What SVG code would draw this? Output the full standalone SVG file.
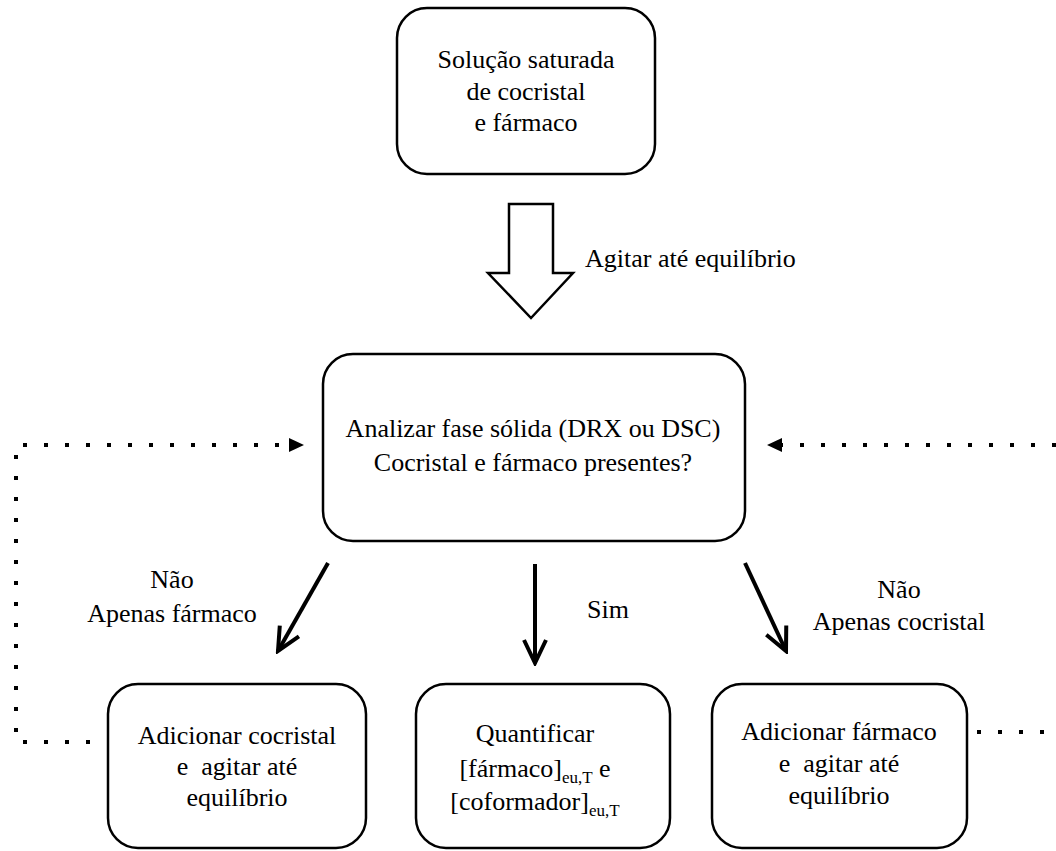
<svg xmlns="http://www.w3.org/2000/svg" width="1056" height="851" viewBox="0 0 1056 851">
<style>
.box{fill:#fff;stroke:#000;stroke-width:2.5}
text{font-family:'Liberation Serif','Times New Roman','DejaVu Serif',serif;font-size:26px;fill:#000;text-anchor:middle}
.ts{text-anchor:start}
.sub{font-size:17px}
.arr{stroke:#000;stroke-width:4;fill:none;marker-end:url(#chev)}
.dot{stroke:#000;stroke-width:4;fill:none;stroke-dasharray:4 17}
</style>
<defs>
<marker id="chev" markerUnits="userSpaceOnUse" viewBox="-2 -14 28 28" refX="23" refY="0" markerWidth="28" markerHeight="28" orient="auto">
<path d="M0,-11 L23,0 L0,11" fill="none" stroke="#000" stroke-width="4"/>
</marker>
<marker id="tri" markerUnits="userSpaceOnUse" viewBox="0 -8 16 16" refX="2" refY="0" markerWidth="16" markerHeight="16" orient="auto">
<path d="M0,-7 L15,0 L0,7 Z" fill="#000"/>
</marker>
</defs>
<g id="connectors" font-family="Liberation Serif, serif">
<polygon points="509,204 553,204 553,273 573,273 531,318 488,273 509,273" fill="#fff" stroke="#000" stroke-width="2.5"/>
<text class="ts" x="585" y="267">Agitar até equilíbrio</text>
<line class="arr" x1="328" y1="563" x2="278" y2="651"/>
<line class="arr" x1="535" y1="564" x2="535" y2="663"/>
<line class="arr" x1="745" y1="563" x2="786" y2="651"/>
<text x="172" y="588">Não</text>
<text x="172" y="622">Apenas fármaco</text>
<text class="ts" x="587" y="618">Sim</text>
<text x="899" y="598">Não</text>
<text x="899" y="630">Apenas cocristal</text>
<path class="dot" d="M90,742 L16,742 L16,445 L291,445" marker-end="url(#tri)"/>
<path class="dot" d="M1056,445 L780,445" marker-end="url(#tri)"/>
<path class="dot" d="M977,732 L1056,732"/>
</g>
<g id="n1">
<rect class="box" x="397" y="8" width="258" height="166" rx="30"/>
<text x="526" y="68">Solução saturada</text>
<text x="526" y="100">de cocristal</text>
<text x="526" y="131">e fármaco</text>
</g>
<g id="n2">
<rect class="box" x="323" y="354" width="422" height="187" rx="30"/>
<text x="533" y="437">Analizar fase sólida (DRX ou DSC)</text>
<text x="533" y="471">Cocristal e fármaco presentes?</text>
</g>
<g id="n3">
<rect class="box" x="108" y="684" width="258" height="164" rx="30"/>
<text x="237" y="744">Adicionar cocristal</text>
<text x="237" y="775" xml:space="preserve">e  agitar até</text>
<text x="237" y="806">equilíbrio</text>
</g>
<g id="n4">
<rect class="box" x="416" y="684" width="254" height="164" rx="30"/>
<text x="535" y="742">Quantificar</text>
<text x="535" y="777">[fármaco]<tspan class="sub" dy="6">eu,T</tspan><tspan dy="-6"> e</tspan></text>
<text x="535" y="810">[coformador]<tspan class="sub" dy="6">eu,T</tspan></text>
</g>
<g id="n5">
<rect class="box" x="712" y="684" width="255" height="164" rx="30"/>
<text x="839" y="740">Adicionar fármaco</text>
<text x="839" y="772" xml:space="preserve">e  agitar até</text>
<text x="839" y="804">equilíbrio</text>
</g>
</svg>
